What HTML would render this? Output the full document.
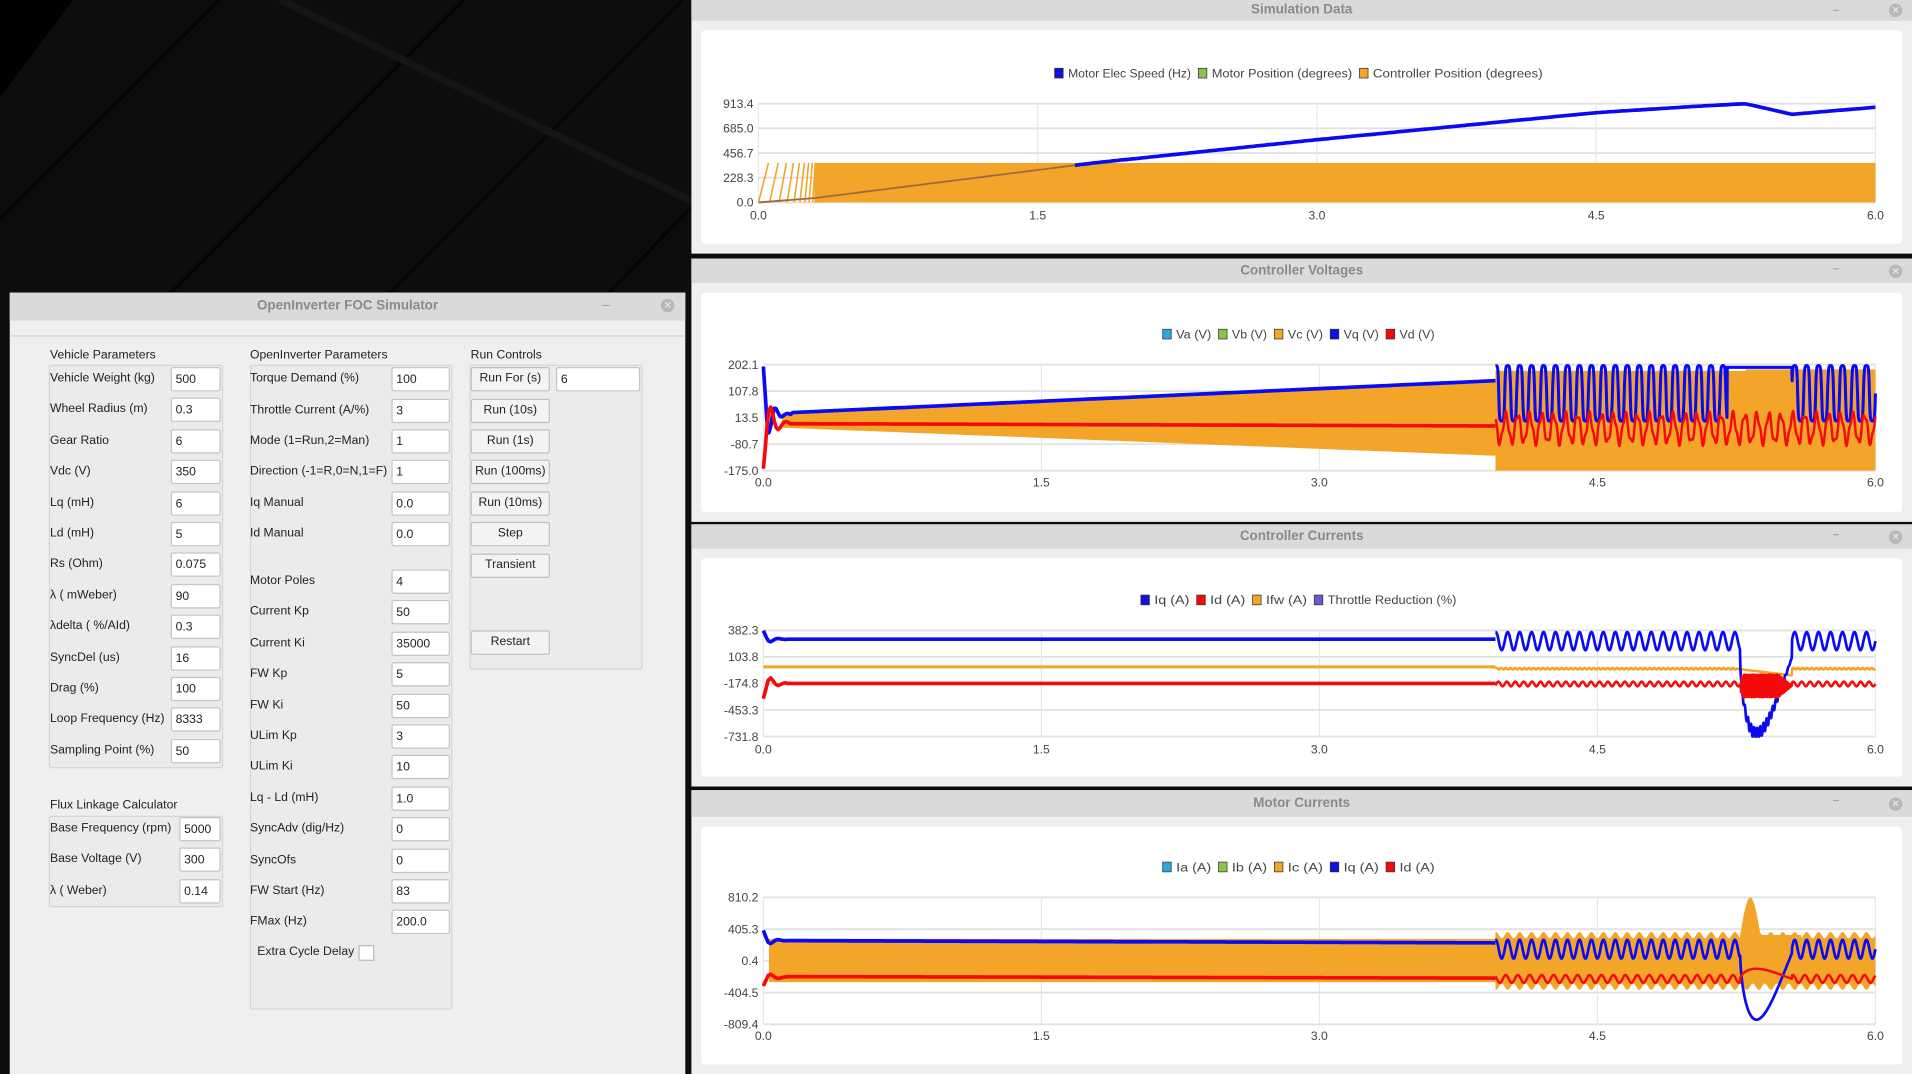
<!DOCTYPE html>
<html><head><meta charset="utf-8">
<style>
html,body{margin:0;padding:0;width:1912px;height:1074px;overflow:hidden;background:#0b0b0b}
#root{position:absolute;left:0;top:0;width:1568px;height:881px;transform:scale(1.21939);transform-origin:0 0;font-family:"Liberation Sans",sans-serif;font-size:10px;color:#222}
.abs{position:absolute}
.tb{position:absolute;background:#dadada;color:#8a8a8a;font-weight:bold;font-size:11px;text-align:center}
.inp{position:absolute;background:#fff;border:1px solid #c4c4c4;border-radius:2px;height:20px;line-height:20px;padding-left:3px;box-sizing:border-box;font-size:10px}
.lbl{position:absolute;font-size:10px;line-height:12px;white-space:nowrap}
.btn{position:absolute;background:#f3f3f3;border:1px solid #c0c0c0;border-radius:2px;height:20px;line-height:18px;text-align:center;box-sizing:border-box;font-size:10px}
.grp{position:absolute;border:1px solid #d6d6d6;background:#ebebeb;border-radius:2px}
.wc{position:absolute;width:11px;height:11px;border-radius:50%;background:#b8b8b8;color:#eee;font-size:8px;line-height:11px;text-align:center}
</style></head><body>
<div id="root">
<svg class="abs" style="left:0;top:0" width="567" height="881">
<rect width="567" height="881" fill="#0d0d0d"/>
<polygon points="0,0 60,0 0,80" fill="#000"/>
<g stroke="#050505" stroke-width="3">
<line x1="0" y1="180" x2="180" y2="0"/><line x1="120" y1="260" x2="380" y2="0"/>
<line x1="300" y1="260" x2="560" y2="0"/><line x1="480" y1="260" x2="567" y2="170"/>
</g>
<g stroke="#151515" stroke-width="6"><line x1="230" y1="0" x2="567" y2="165"/></g>
</svg>
<div class="abs" style="left:8px;top:240px;width:554px;height:641px;background:#efefef"></div>
<div class="tb" style="left:8px;top:240px;width:554px;height:23px;line-height:23px">OpenInverter FOC Simulator</div>
<div class="abs" style="left:494px;top:250px;width:6px;height:1px;background:#aaa"></div>
<div class="wc" style="left:542px;top:245px">✕</div>
<div class="abs" style="left:8px;top:275px;width:554px;height:1px;background:#d0d0d0"></div>

<div class="lbl" style="left:41px;top:286px">Vehicle Parameters</div>
<div class="grp" style="left:40px;top:299px;width:141px;height:329px"></div>
<div class="lbl" style="left:205px;top:286px">OpenInverter Parameters</div>
<div class="grp" style="left:205px;top:299px;width:164px;height:527px"></div>
<div class="lbl" style="left:386px;top:286px">Run Controls</div>
<div class="grp" style="left:385px;top:299px;width:140px;height:248px"></div>
<div class="lbl" style="left:41px;top:655px">Flux Linkage Calculator</div>
<div class="grp" style="left:40px;top:669px;width:141px;height:73px"></div>
<div id="form"></div>
<div id="panels"></div>
<svg id="ch" class="abs" style="left:0;top:0" width="1568" height="881"></svg>
</div>
<script>
var F=document.getElementById('form'),h='';
function L(x,y,t){h+='<div class="lbl" style="left:'+x+'px;top:'+(y-6)+'px">'+t+'</div>';}
function I(x,y,w,t){h+='<div class="inp" style="left:'+x+'px;top:'+(y-10)+'px;width:'+w+'px">'+t+'</div>';}
function B(x,y,w,t){h+='<div class="btn" style="left:'+x+'px;top:'+(y-10)+'px;width:'+w+'px">'+t+'</div>';}
var c1=[["Vehicle Weight (kg)","500"],["Wheel Radius (m)","0.3"],["Gear Ratio","6"],["Vdc (V)","350"],["Lq (mH)","6"],["Ld (mH)","5"],["Rs (Ohm)","0.075"],["λ ( mWeber)","90"],["λdelta ( %/AId)","0.3"],["SyncDel (us)","16"],["Drag (%)","100"],["Loop Frequency (Hz)","8333"],["Sampling Point (%)","50"]];
c1.forEach(function(r,i){var y=311+i*25.4;L(41,y,r[0]);I(140,y,41,r[1]);});
var c2=[["Torque Demand (%)","100",311],["Throttle Current (A/%)","3",336.5],["Mode (1=Run,2=Man)","1",362],["Direction (-1=R,0=N,1=F)","1",387],["Iq Manual","0.0",413],["Id Manual","0.0",438]];
var c2b=["Motor Poles|4","Current Kp|50","Current Ki|35000","FW Kp|5","FW Ki|50","ULim Kp|3","ULim Ki|10","Lq - Ld (mH)|1.0","SyncAdv (dig/Hz)|0","SyncOfs|0","FW Start (Hz)|83","FMax (Hz)|200.0"];
c2.forEach(function(r){L(205,r[2],r[0]);I(321,r[2],48,r[1]);});
c2b.forEach(function(s,i){var r=s.split('|'),y=477+i*25.4;L(205,y,r[0]);I(321,y,48,r[1]);});
L(211,781,"Extra Cycle Delay");
h+='<div class="abs" style="left:294px;top:775px;width:11px;height:11px;background:#fff;border:1px solid #bbb"></div>';
B(386,311,65,"Run For (s)");I(456,311,69,"6");
["Run (10s)","Run (1s)","Run (100ms)","Run (10ms)","Step","Transient"].forEach(function(t,i){B(386,336.5+i*25.4,65,t);});
B(386,527,65,"Restart");
[["Base Frequency (rpm)","5000",680],["Base Voltage (V)","300",705],["λ ( Weber)","0.14",731]].forEach(function(r){L(41,r[2],r[0]);I(147,r[2],34,r[1]);});
F.innerHTML=h;

var P=[["Simulation Data",0,17,208],["Controller Voltages",212,232,428],["Controller Currents",430,450,645],["Motor Currents",648,670,881]];
var ph='';
P.forEach(function(p){
 ph+='<div class="abs" style="left:567px;top:'+p[1]+'px;width:1001px;height:'+(p[3]-p[1])+'px;background:#efefef"></div>';
 ph+='<div class="tb" style="left:567px;top:'+p[1]+'px;width:1001px;height:'+(p[2]-p[1])+'px;line-height:'+(p[2]-p[1])+'px">'+p[0]+'</div>';
 ph+='<div class="abs" style="left:1503px;top:'+(p[1]+8)+'px;width:5px;height:1px;background:#aaa"></div>';
 ph+='<div class="wc" style="left:1549px;top:'+(p[1]+(p[2]-p[1])/2-5.5)+'px">✕</div>';
 ph+='<div class="abs" style="left:575px;top:'+(p[2]+8)+'px;width:985px;height:'+(p[3]-p[2]-16)+'px;background:#fff;border-radius:3px"></div>';
});
document.getElementById('panels').innerHTML=ph;

var S='',OR='#f2a529',BL='#0a0af5',RD='#f50a0a';
function chart(X0,X1,Y0,Y1,vmin,vmax,labs,xl,legY,leg){
 var o={X0:X0,X1:X1,Y0:Y0,Y1:Y1,vmin:vmin,vmax:vmax};
 o.x=function(t){return X0+(X1-X0)*t/6};
 o.y=function(v){return Y1-(Y1-Y0)*(v-vmin)/(vmax-vmin)};
 for(var i=0;i<5;i++){var yy=Y0+(Y1-Y0)*i/4;S+='<line x1="'+X0+'" x2="'+X1+'" y1="'+yy+'" y2="'+yy+'" stroke="#e2e2e2" stroke-width="1.5"/>';
  S+='<text x="'+(X0-4)+'" y="'+(yy+3.5)+'" text-anchor="end" font-size="10" fill="#444">'+labs[i]+'</text>';
  var xx=X0+(X1-X0)*i/4;S+='<line x1="'+xx+'" x2="'+xx+'" y1="'+Y0+'" y2="'+Y1+'" stroke="#e8e8e8"/>';
  S+='<text x="'+xx+'" y="'+xl+'" text-anchor="middle" font-size="10" fill="#444">'+['0.0','1.5','3.0','4.5','6.0'][i]+'</text>';}
 var tw=0;leg.forEach(function(l){tw+=12+l[0].length*4.8+5});
 var lx=1068-tw/2;
 leg.forEach(function(l){S+='<rect x="'+lx+'" y="'+(legY-4)+'" width="7" height="8" fill="'+l[1]+'" stroke="#333" stroke-width="0.6"/>';
  S+='<text x="'+(lx+11)+'" y="'+(legY+3.5)+'" font-size="10" fill="#444" textLength="'+(l[0].length*4.8)+'" lengthAdjust="spacingAndGlyphs">'+l[0]+'</text>';lx+=12+l[0].length*4.8+5;});
 return o;}
function line(o,f,col,w,t0,t1,n){var p=[];n=n||1500;t0=t0||0;t1=t1===undefined?6:t1;
 for(var i=0;i<=n;i++){var t=t0+(t1-t0)*i/n;p.push(o.x(t).toFixed(1)+','+o.y(Math.max(o.vmin,Math.min(o.vmax,f(t)))).toFixed(1));}
 S+='<polyline points="'+p.join(' ')+'" fill="none" stroke="'+col+'" stroke-width="'+w+'" stroke-linejoin="round"/>';}
function band(o,top,bot,col,t0,t1,n){var a=[],b=[];n=n||600;
 for(var i=0;i<=n;i++){var t=t0+(t1-t0)*i/n;a.push(o.x(t).toFixed(1)+','+o.y(Math.min(o.vmax,top(t))).toFixed(1));b.unshift(o.x(t).toFixed(1)+','+o.y(Math.max(o.vmin,bot(t))).toFixed(1));}
 S+='<polygon points="'+a.concat(b).join(' ')+'" fill="'+col+'"/>';}
var pi2=2*Math.PI,FQ=15.5;
function sq(t,f,ph){return Math.tanh(2.5*Math.sin(pi2*f*t+(ph||0)));}

var c=chart(622,1538,85,166,0,913.4,['913.4','685.0','456.7','228.3','0.0'],180,60,[["Motor Elec Speed (Hz)","#1010e0"],["Motor Position (degrees)","#8bc34a"],["Controller Position (degrees)",OR]]);
(function(){var t=0.0,dt=0.06;var s='';while(t<0.35){s+='M'+c.x(t)+','+c.y(0)+'L'+c.x(t+dt*0.9)+','+c.y(365)+' ';t+=dt;dt*=0.85;}
 S+='<path d="'+s+'" stroke="'+OR+'" stroke-width="1.3" fill="none"/>';})();
S+='<rect x="'+c.x(0.3)+'" y="'+c.y(365)+'" width="'+(c.x(6)-c.x(0.3))+'" height="'+(c.y(0)-c.y(365))+'" fill="'+OR+'"/>';
var sp=[[0,0],[0.3,40],[1.8,365],[3,580],[3.75,705],[4.5,830],[5,885],[5.3,913],[5.55,815],[6,880]];
function interp(pts,t){for(var i=1;i<pts.length;i++)if(t<=pts[i][0]){var a=pts[i-1],b=pts[i];return a[1]+(b[1]-a[1])*(t-a[0])/(b[0]-a[0]);}return pts[pts.length-1][1];}
line(c,function(t){return interp(sp,t)},BL,3,1.7,6,300);
line(c,function(t){return interp(sp,t)},'#a06a40',1.5,0,1.7,200);

c=chart(626,1538,299,386,-175,202.1,['202.1','107.8','13.5','-80.7','-175.0'],399,274,[["Va (V)","#29a9e0"],["Vb (V)","#8bc34a"],["Vc (V)",OR],["Vq (V)","#1010e0"],["Vd (V)",RD]]);
band(c,function(t){return 28+117*(t-0.1)/3.85},function(t){return -22-100*(t-0.1)/3.85},OR,0.1,3.95);
band(c,function(t){return t<5.3?180:185},function(t){return -175},OR,3.95,6);
line(c,function(t){return t<0.15?25+170*Math.exp(-t*30)*Math.cos(pi2*t*15):30+115*(t-0.1)/3.85},BL,3,0,3.95,400);
line(c,function(t){var v=100+100*sq(t,FQ);if(t>5.2&&t<5.55)v=192;return v},BL,2.5,3.95,6,1500);
line(c,function(t){return t<0.15?-8-160*Math.exp(-t*25)*Math.cos(pi2*t*12):-8-8*(t-0.1)/3.85},RD,3,0,3.95,400);
line(c,function(t){return -25+50*Math.sin(pi2*FQ*t+1)+12*Math.sin(pi2*40*t)},RD,2,3.95,6,1500);

c=chart(626,1538,517,604,-731.8,382.3,['382.3','103.8','-174.8','-453.3','-731.8'],618,492,[["Iq (A)","#1010e0"],["Id (A)",RD],["Ifw (A)",OR],["Throttle Reduction (%)","#6a5acd"]]);
function dip(t){if(t<5.27||t>5.55)return 0;var u=(t-5.27)/0.28;return Math.sin(Math.PI*Math.pow(u,0.6));}
line(c,function(t){return 0},OR,2.5,0,3.95,50);
line(c,function(t){var v=-20+8*sq(t,40);if(t>5.25&&t<5.55)v=-20-70*(t-5.25)/0.3;return v},OR,2,3.95,6,1200);
line(c,function(t){return t<0.12?290+90*Math.exp(-t*30)*Math.cos(pi2*t*12):290},BL,3,0,3.95,300);
line(c,function(t){var d=dip(t);if(d>0)return 100-(800+60*Math.sin(pi2*60*t))*d;return 270+95*Math.sin(pi2*FQ*t)},BL,2.2,3.95,6,1500);
line(c,function(t){return t<0.12?-175-160*Math.exp(-t*25)*Math.cos(pi2*t*12):-175},RD,3,0,3.95,300);
line(c,function(t){var d=dip(t);if(d>0)return -200+120*Math.sin(pi2*90*t)*Math.min(1,d*2);return -180+25*Math.sin(pi2*22*t)},RD,2,3.95,6,1800);

c=chart(626,1538,736,840,-809.4,810.2,['810.2','405.3','0.4','-404.5','-809.4'],853,711,[["Ia (A)","#29a9e0"],["Ib (A)","#8bc34a"],["Ic (A)",OR],["Iq (A)","#1010e0"],["Id (A)",RD]]);
band(c,function(t){return 280},function(t){return -270},OR,0.03,3.95);
band(c,function(t){var v=330+40*Math.sin(pi2*FQ*t);if(t>5.27&&t<5.6){var u=(t-5.27)/0.33;v=Math.max(v,330+480*Math.sin(Math.PI*Math.min(1,u*3))*(u<0.33?1:1-(u-0.33)*1.3));}return v},function(t){var v=-330-40*Math.sin(pi2*FQ*t);return v},OR,3.95,6,900);
line(c,function(t){return t<0.12?260+130*Math.exp(-t*30)*Math.cos(pi2*t*12):260-30*t/3.95},BL,3,0,3.95,300);
line(c,function(t){var d=dip(t);if(d>0)return 100-850*d;return 150+120*Math.sin(pi2*FQ*t)},BL,2.2,3.95,6,1500);
line(c,function(t){return t<0.12?-210-110*Math.exp(-t*25)*Math.cos(pi2*t*12):-200-20*t/3.95},RD,3,0,3.95,300);
line(c,function(t){var d=dip(t);if(d>0)return -230+130*d;return -230+50*Math.sin(pi2*FQ*t+1)},RD,2,3.95,6,1500);

document.getElementById('ch').innerHTML=S;
</script>
</body></html>
